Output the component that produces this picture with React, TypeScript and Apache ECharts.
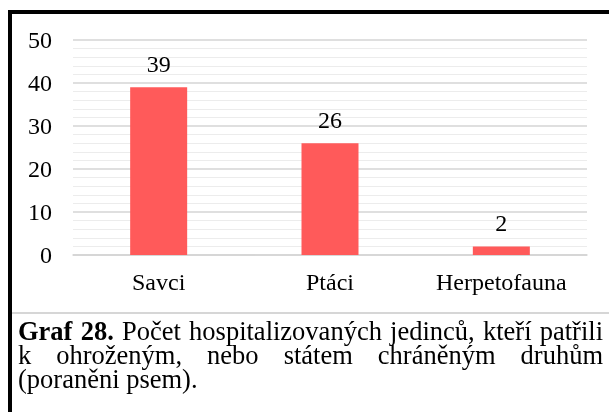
import React, { useEffect, useRef } from "react";
import * as echarts from "echarts";

const categories = ["Savci", "Ptáci", "Herpetofauna"];
const values = [39, 26, 2];
const yTicks = { min: 0, max: 50, interval: 10 };
const captionBoldWords = ["Graf", "28."];
const captionLine1 = ["Počet", "hospitalizovaných", "jedinců,", "kteří", "patřili"];
const captionLine2 = ["k", "ohroženým,", "nebo", "státem", "chráněným", "druhům"];
const captionLine3 = "(poraněni psem).";

const FONT = "Times New Roman";
const AXIS_FS = 24;
const CAP_FS = 26.5;
const CAP_LEFT = 18;
const CAP_RIGHT = 603;

function measure(text: string, bold: boolean) {
  const c = document.createElement("canvas").getContext("2d")!;
  c.font = `${bold ? "bold " : ""}${CAP_FS}px ${FONT}`;
  return c.measureText(text).width;
}

function justify(words: { t: string; b: boolean }[], y: number) {
  const widths = words.map((w) => measure(w.t, w.b));
  const total = widths.reduce((a, b) => a + b, 0);
  const gap = (CAP_RIGHT - CAP_LEFT - total) / (words.length - 1);
  let x = CAP_LEFT;
  return words.map((w, i) => {
    const el = {
      type: "text",
      x,
      y,
      style: {
        text: w.t,
        fill: "#000",
        fontSize: CAP_FS,
        fontFamily: FONT,
        fontWeight: w.b ? "bold" : "normal",
        verticalAlign: "middle",
      },
    };
    x += widths[i] + gap;
    return el;
  });
}

export default function App() {
  const ref = useRef<HTMLDivElement>(null);
  useEffect(() => {
    if (!ref.current) return;
    const chart = echarts.init(ref.current, null, { renderer: "svg" });
    const line1 = [
      ...captionBoldWords.map((t) => ({ t, b: true })),
      ...captionLine1.map((t) => ({ t, b: false })),
    ];
    const line2 = captionLine2.map((t) => ({ t, b: false }));
    chart.setOption({
      animation: false,
      grid: { left: 73, right: 22, top: 40, bottom: 157 },
      xAxis: {
        type: "category",
        data: categories,
        axisLine: { show: true, lineStyle: { color: "#d4d4d4", width: 1.5 } },
        axisTick: { show: false },
        axisLabel: { color: "#000", fontSize: AXIS_FS, fontFamily: FONT, margin: 15 },
      },
      yAxis: {
        type: "value",
        min: yTicks.min,
        max: yTicks.max,
        interval: yTicks.interval,
        axisLine: { show: false },
        axisTick: { show: false },
        axisLabel: { color: "#000", fontSize: AXIS_FS, fontFamily: FONT, margin: 21 },
        splitLine: { show: true, lineStyle: { color: "#d4d4d4", width: 1.5 } },
        minorTick: { show: false, splitNumber: 5 },
        minorSplitLine: { show: true, lineStyle: { color: "#ececec", width: 1.2 } },
      },
      series: [
        {
          type: "bar",
          data: values,
          barWidth: 57,
          itemStyle: { color: "#ff5a5a" },
          label: {
            show: true,
            position: "top",
            distance: 11,
            color: "#000",
            fontSize: AXIS_FS,
            fontFamily: FONT,
          },
        },
      ],
      graphic: [
        { type: "rect", shape: { x: 8, y: 10, width: 601, height: 4 }, style: { fill: "#000" } },
        { type: "rect", shape: { x: 8, y: 10, width: 4, height: 402 }, style: { fill: "#000" } },
        { type: "rect", shape: { x: 12, y: 312, width: 597, height: 2 }, style: { fill: "#d6d6d6" } },
        ...justify(line1, 331),
        ...justify(line2, 355),
        {
          type: "text",
          x: CAP_LEFT,
          y: 379,
          style: { text: captionLine3, fill: "#000", fontSize: CAP_FS, fontFamily: FONT, verticalAlign: "middle" },
        },
      ],
    });
    return () => chart.dispose();
  }, []);
  return <div ref={ref} style={{ position: "fixed", left: 0, top: 0, width: 609, height: 412 }} />;
}
